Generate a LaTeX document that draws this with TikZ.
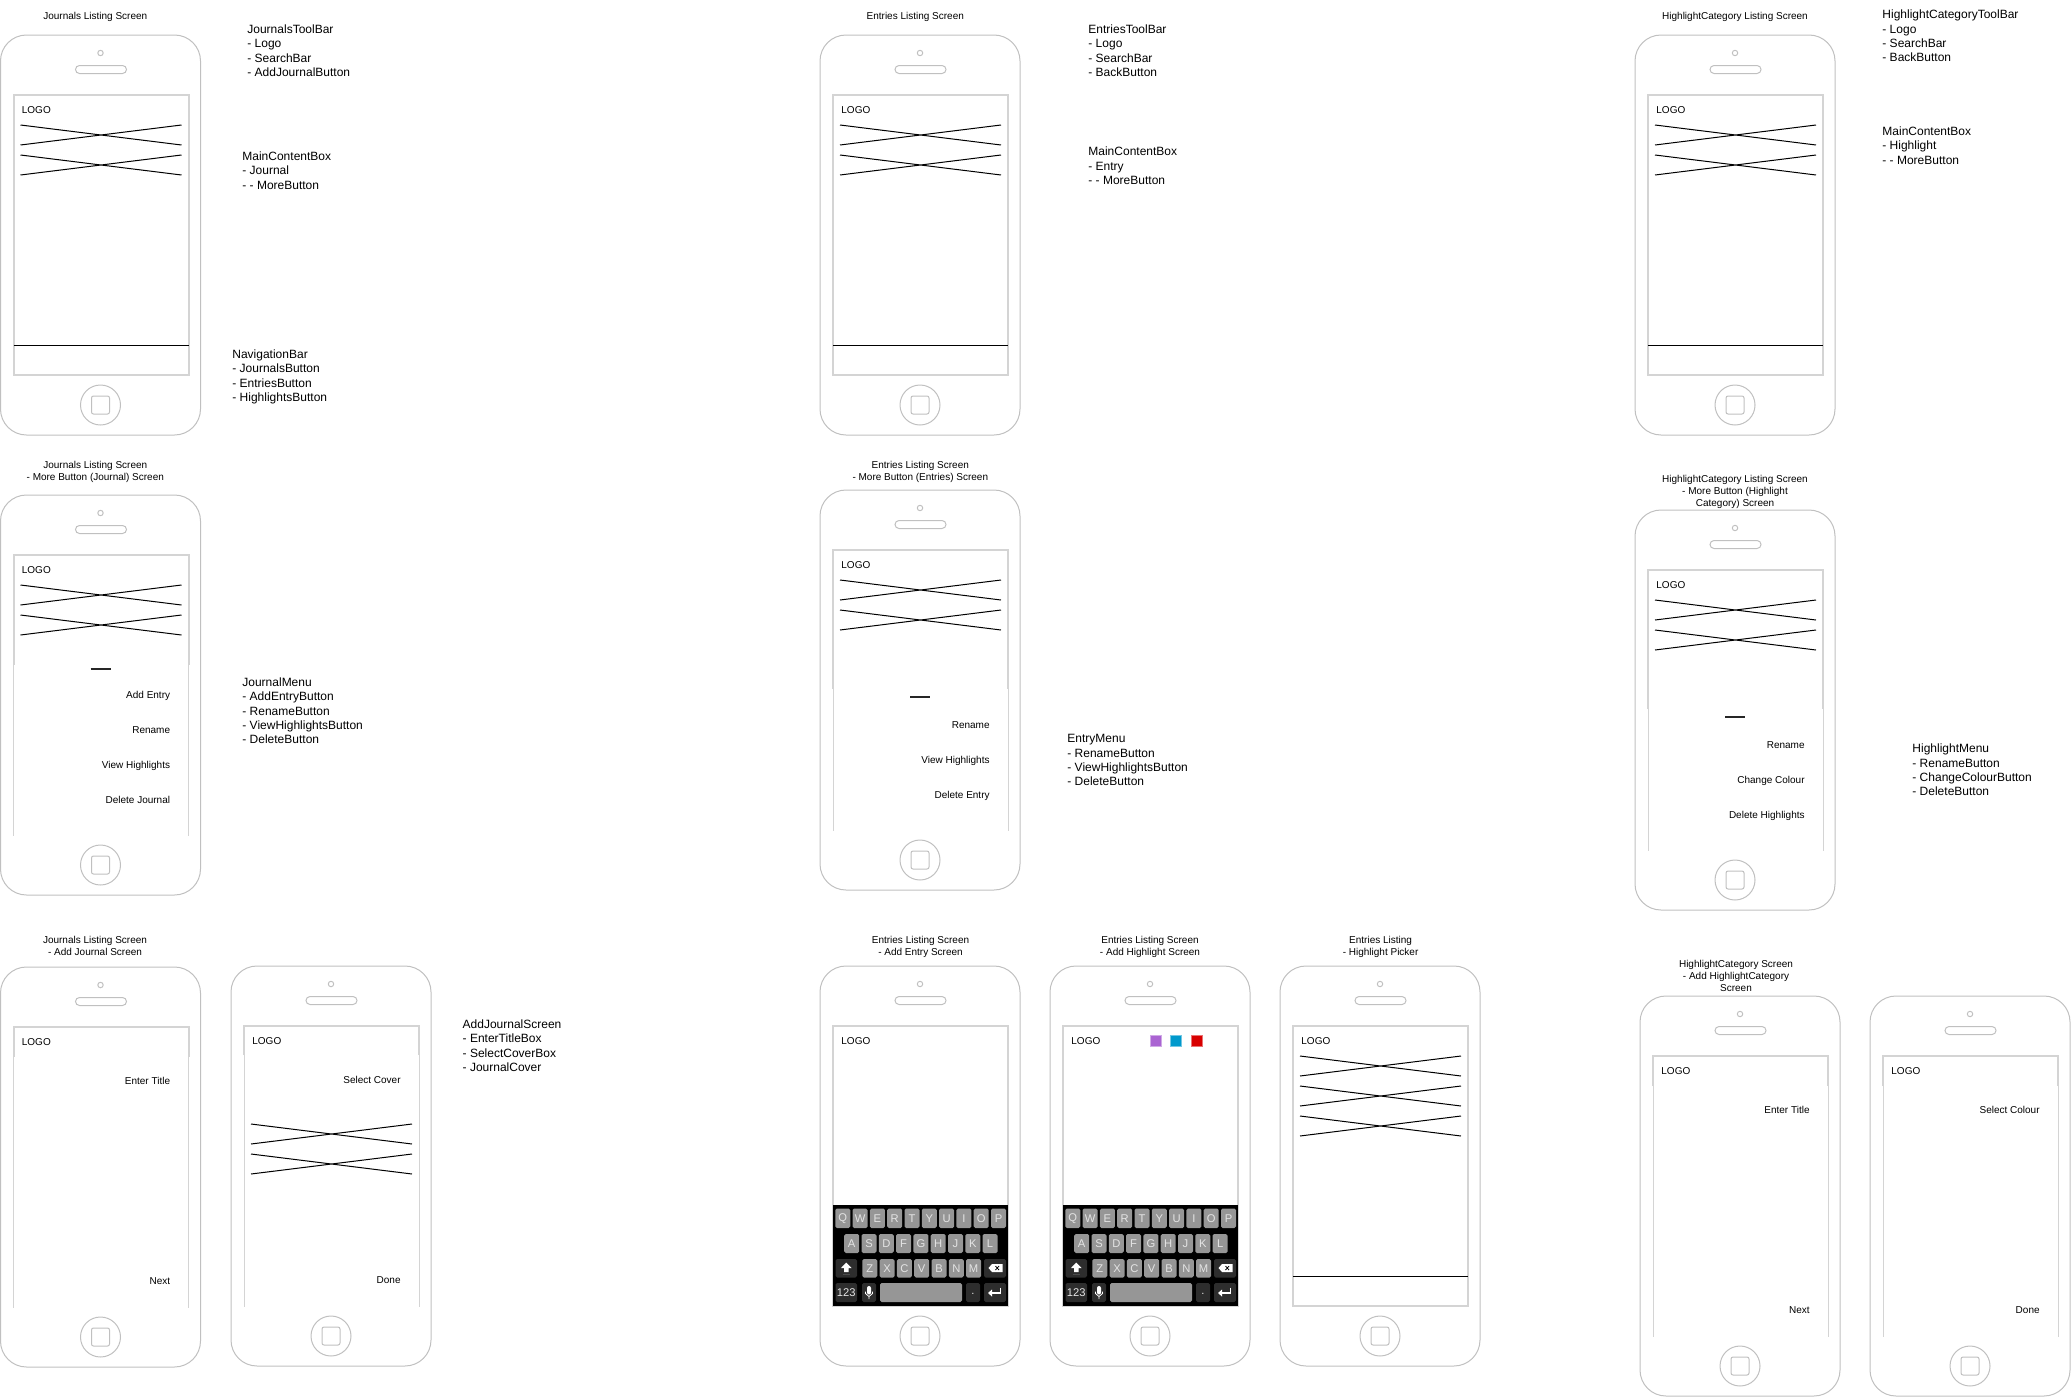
\documentclass[tikz,border=0pt]{standalone}
\usepackage{fontspec}
\setmainfont{Liberation Sans}
\definecolor{phonegray}{RGB}{192,192,192}
\definecolor{scrgray}{RGB}{212,212,212}
\definecolor{keygray}{RGB}{150,150,150}
\definecolor{keydark}{RGB}{45,45,45}
\definecolor{keytext}{RGB}{228,228,228}
\definecolor{hlpurple}{RGB}{170,100,210}
\definecolor{hlblue}{RGB}{0,153,204}
\definecolor{hlred}{RGB}{216,0,0}
\tikzset{
 phoneline/.style={draw=phonegray, line width=0.5pt},
 scrline/.style={draw=scrgray, line width=1pt},
 thinscr/.style={draw=scrgray, line width=0.5pt},
 xline/.style={draw=black, line width=0.5pt},
 navline/.style={draw=black, line width=0.5pt},
 handlebar/.style={draw=black!85, line width=1pt},
 title/.style={font=\fontsize{5}{6}\selectfont, align=center, anchor=north, inner sep=0pt},
 note/.style={font=\fontsize{6}{7.15}\selectfont, align=left, anchor=north west, inner sep=0pt},
 logotext/.style={font=\fontsize{5}{6}\selectfont, anchor=base west, inner sep=0pt},
 menutext/.style={font=\fontsize{5}{6}\selectfont, anchor=base east, inner sep=0pt},
 keybox/.style={fill=keygray, rounded corners=0.8pt},
 dkeybox/.style={fill=keydark, rounded corners=0.8pt},
 keylbl/.style={font=\fontsize{5.6}{6}\selectfont, text=keytext, inner sep=0pt},
}
\newcommand\phonebody{%
  \draw[phoneline, rounded corners=13pt] (0,0) rectangle (200,400);
  \draw[phoneline] (100,18) circle[radius=1.35pt];
  \draw[phoneline, rounded corners=2pt] (75,30.5) rectangle (126,38.5);
  \draw[phoneline] (100,370) circle[radius=10pt];
  \draw[phoneline, rounded corners=1pt] (91,361) rectangle (109,379);}
\newcommand\fullscreen{\draw[scrline] (13,60) rectangle (188,340);}
\newcommand\navbarline{\draw[navline] (13,310) -- (188,310);}
\newcommand\crosses[1]{\foreach \yy in {#1}{\draw[xline] (20,\yy) -- (181,\yy+20) (20,\yy+20) -- (181,\yy);}}
\newcommand\logotxt[1]{\node[logotext] (#1logo) at (21,78.6) {LOGO};}
\newcommand\menuscreen[1]{\draw[scrline] (13,#1) -- (13,60) -- (188,60) -- (188,#1);
  \draw[thinscr] (13,#1) -- (13,341) (188,#1) -- (188,341);}
\newcommand\handle[1]{\draw[handlebar] (90,#1) -- (110,#1);}
\newcommand\menuitem[3]{\node[menutext] (#1) at (170,#2) {#3};}
\newcommand\keyboardpic[1]{%
  \fill[black] (13,239) rectangle (188,340);
  \foreach \kl [count=\ki from 0] in {Q,W,E,R,T,Y,U,I,O,P}{%
    \pgfmathsetmacro\kx{15.3+\ki*17.3}
    \fill[keybox] (\kx,242.5) rectangle ++(15,19.5);
    \node[keylbl] (#1k\kl) at (\kx+7.5,252.5) {\kl};}
  \foreach \kl [count=\ki from 0] in {A,S,D,F,G,H,J,K,L}{%
    \pgfmathsetmacro\kx{24.2+\ki*17.3}
    \fill[keybox] (\kx,268) rectangle ++(15,19);
    \node[keylbl] (#1k\kl) at (\kx+7.5,277.5) {\kl};}
  \foreach \kl [count=\ki from 0] in {Z,X,C,V,B,N,M}{%
    \pgfmathsetmacro\kx{42.3+\ki*17.3}
    \fill[keybox] (\kx,293) rectangle ++(15,18.5);
    \node[keylbl] (#1k\kl) at (\kx+7.5,302.2) {\kl};}
  \fill[dkeybox] (15.5,293) rectangle (37,311.5);
  \fill[dkeybox] (164,293) rectangle (186,311.5);
  \fill[dkeybox] (15.5,317) rectangle (37,336);
  \fill[dkeybox] (42,317) rectangle (56,336);
  \fill[keybox] (60,317) rectangle (142,336);
  \fill[dkeybox] (146,317) rectangle (160,336);
  \fill[dkeybox] (164,317) rectangle (186,336);
  \fill[white] (26.2,296.5) -- (31.5,302) -- (28.5,302) -- (28.5,306) -- (24,306) -- (24,302) -- (21,302) -- cycle;
  \draw[black!70, line width=0.5pt] (22.5,308) -- (30,308);
  \fill[white] (168.5,302) -- (172,298) -- (182.5,298) -- (182.5,306) -- (172,306) -- cycle;
  \draw[black, line width=0.4pt] (175.5,300) -- (179,304) (175.5,304) -- (179,300);
  \fill[white, rounded corners=1pt] (47,320) rectangle (51,328.5);
  \draw[white, line width=0.4pt] (45.5,325.5) -- (45.5,327.5) -- (49,330.5) -- (52.5,327.5) -- (52.5,325.5) (49,330.5) -- (49,333);
  \draw[white, line width=0.8pt] (180.5,321.5) -- (180.5,327) -- (171,327);
  \fill[white] (168,327) -- (172,323.5) -- (172,330.5) -- cycle;
  \node[keylbl] (#1k123) at (26.25,326.5) {123};
  \node[keylbl] (#1kdot) at (153,328) {.};}
\begin{document}
\begin{tikzpicture}[x=0.5pt,y=-0.5pt]
\useasboundingbox (0,0) rectangle (2071,1397);
% ---------------- Row 1
\begin{scope}[shift={(0.5,35)}]
  \phonebody \fullscreen \navbarline \crosses{90,120} \logotxt{pa}
\end{scope}
\begin{scope}[shift={(820,35)}]
  \phonebody \fullscreen \navbarline \crosses{90,120} \logotxt{pb}
\end{scope}
\begin{scope}[shift={(1635,35)}]
  \phonebody \fullscreen \navbarline \crosses{90,120} \logotxt{pc}
\end{scope}
\node[title] (ta) at (95.3,10.7) {\strut Journals Listing Screen};
\node[title] (tb) at (915.3,10.7) {\strut Entries Listing Screen};
\node[title] (tc) at (1735,10.7) {\strut HighlightCategory Listing Screen};
\node[note] (na) at (247,23) {\strut JournalsToolBar\\- Logo\\- SearchBar\\- AddJournalButton};
\node[note] (nb) at (242,150) {\strut MainContentBox\\- Journal\\- - MoreButton};
\node[note] (nc) at (232,348) {\strut NavigationBar\\- JournalsButton\\- EntriesButton\\- HighlightsButton};
\node[note] (nd) at (1088,23) {\strut EntriesToolBar\\- Logo\\- SearchBar\\- BackButton};
\node[note] (ne) at (1088,145.3) {\strut MainContentBox\\- Entry\\- - MoreButton};
\node[note] (nf) at (1882,8.3) {\strut HighlightCategoryToolBar\\- Logo\\- SearchBar\\- BackButton};
\node[note] (ng) at (1882,125) {\strut MainContentBox\\- Highlight\\- - MoreButton};
% ---------------- Row 2
\begin{scope}[shift={(0.5,495)}]
  \phonebody \menuscreen{170} \crosses{90,120} \logotxt{pd} \handle{174}
  \menuitem{pdA}{203.6}{Add Entry}
  \menuitem{pdB}{238.6}{Rename}
  \menuitem{pdC}{273.6}{View Highlights}
  \menuitem{pdD}{308.6}{Delete Journal}
\end{scope}
\begin{scope}[shift={(820,490)}]
  \phonebody \menuscreen{199} \crosses{90,120} \logotxt{pe} \handle{207}
  \menuitem{peA}{238.6}{Rename}
  \menuitem{peB}{273.6}{View Highlights}
  \menuitem{peC}{308.6}{Delete Entry}
\end{scope}
\begin{scope}[shift={(1635,510)}]
  \phonebody \menuscreen{199} \crosses{90,120} \logotxt{pf} \handle{207}
  \menuitem{pfA}{238.6}{Rename}
  \menuitem{pfB}{273.6}{Change Colour}
  \menuitem{pfC}{308.6}{Delete Highlights}
\end{scope}
\node[title] (td) at (95.3,459.5) {\strut Journals Listing Screen\\- More Button (Journal) Screen};
\node[title] (te) at (920.3,459.5) {\strut Entries Listing Screen\\- More Button (Entries) Screen};
\node[title] (tf) at (1735,473.5) {\strut HighlightCategory Listing Screen\\- More Button (Highlight\\Category) Screen};
\node[note] (nh) at (242,676) {\strut JournalMenu\\- AddEntryButton\\- RenameButton\\- ViewHighlightsButton\\- DeleteButton};
\node[note] (ni) at (1067,732.3) {\strut EntryMenu\\- RenameButton\\- ViewHighlightsButton\\- DeleteButton};
\node[note] (nj) at (1912,742.3) {\strut HighlightMenu\\- RenameButton\\- ChangeColourButton\\- DeleteButton};
% ---------------- Row 3
\begin{scope}[shift={(0.5,967)}]
  \phonebody \menuscreen{90} \logotxt{pg}
  \menuitem{pgA}{117.6}{Enter Title}
  \menuitem{pgB}{317.6}{Next}
\end{scope}
\begin{scope}[shift={(231,966)}]
  \phonebody \menuscreen{89} \logotxt{ph} \crosses{158,188}
  \menuitem{phA}{117.6}{Select Cover}
  \menuitem{phB}{317.6}{Done}
\end{scope}
\begin{scope}[shift={(820,966)}]
  \phonebody \fullscreen \logotxt{pi} \keyboardpic{pi}
\end{scope}
\begin{scope}[shift={(1050,966)}]
  \phonebody \fullscreen \logotxt{pj} \keyboardpic{pj}
  \filldraw[fill=hlpurple, draw=hlpurple!55!white, line width=0.5pt] (100,69) rectangle (111,80);
  \filldraw[fill=hlblue, draw=hlblue!55!white, line width=0.5pt] (120,69) rectangle (131,80);
  \filldraw[fill=hlred, draw=hlred!55!white, line width=0.5pt] (141,69) rectangle (152,80);
\end{scope}
\begin{scope}[shift={(1280,966)}]
  \phonebody \fullscreen \navbarline \crosses{90,120,150} \logotxt{pk}
\end{scope}
\begin{scope}[shift={(1640,996)}]
  \phonebody \menuscreen{90} \logotxt{pl}
  \menuitem{plA}{117.6}{Enter Title}
  \menuitem{plB}{317.6}{Next}
\end{scope}
\begin{scope}[shift={(1870,996)}]
  \phonebody \menuscreen{90} \logotxt{pm}
  \menuitem{pmA}{117.6}{Select Colour}
  \menuitem{pmB}{317.6}{Done}
\end{scope}
\node[title] (tg) at (95,934.2) {\strut Journals Listing Screen\\- Add Journal Screen};
\node[title] (ti) at (920.5,934.2) {\strut Entries Listing Screen\\- Add Entry Screen};
\node[title] (tj) at (1150,934.2) {\strut Entries Listing Screen\\- Add Highlight Screen};
\node[title] (tk) at (1380.6,934.2) {\strut Entries Listing\\- Highlight Picker};
\node[title] (tl) at (1736,958.5) {\strut HighlightCategory Screen\\- Add HighlightCategory\\Screen};
\node[note] (nk) at (462.3,1018) {\strut AddJournalScreen\\- EnterTitleBox\\- SelectCoverBox\\- JournalCover};
\end{tikzpicture}
\end{document}
